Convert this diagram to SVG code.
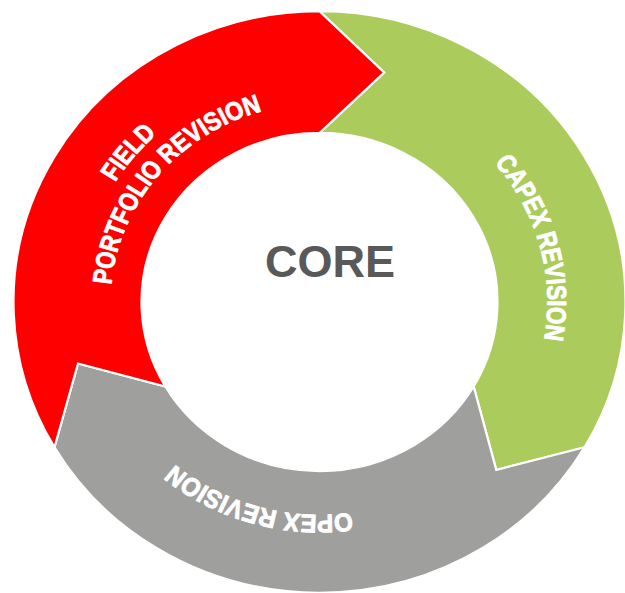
<svg xmlns="http://www.w3.org/2000/svg" xmlns:xlink="http://www.w3.org/1999/xlink" width="625" height="593" viewBox="0 0 625 593">
  <style>
    .seg { stroke: #ffffff; stroke-width: 2.2; stroke-linejoin: miter; }
    .lbl { font-family: "Liberation Sans", Arial, sans-serif; font-weight: bold; font-size: 27px; fill: #ffffff; stroke: #ffffff; stroke-width: 0.9; stroke-linejoin: round; }
    .core { font-family: "Liberation Sans", Arial, sans-serif; font-weight: bold; font-size: 45px; fill: #595959; }
  </style>
  <defs>
    <path id="arcCapex" d="M -19.87,-227.13 A 228 228 0 0 1 96.36,206.64"/>
    <path id="arcOpex" d="M 201.33,98.20 A 224 224 0 0 1 -222.77,-23.41"/>
    <path id="arcField" d="M -182.5,155.9 A 240 240 0 0 1 118.2,-208.9"/>
    <path id="arcPortfolio" d="M -158.92,135.72 A 209 209 0 0 1 102.91,-181.91"/>
  </defs>
  <rect width="625" height="593" fill="#ffffff"/>
  <g transform="translate(319.5,302) scale(1,0.95)">
    <g id="connectors"/>
    <g id="capex">
      <path class="seg" fill="#abcc5c" d="M 0,-306 A 306 306 0 0 1 265,153 L 176.78,176.78 L 154.15,89 A 178 178 0 0 0 0,-178 L 64.70,-241.48 Z"/>
      <text class="lbl" text-anchor="middle"><textPath xlink:href="#arcCapex" href="#arcCapex" startOffset="50%" textLength="199" lengthAdjust="spacingAndGlyphs">CAPEX REVISION</textPath></text>
    </g>
    <g id="opex">
      <path class="seg" fill="#9f9f9e" d="M 265,153 A 306 306 0 0 1 -265,153 L -241.48,64.70 L -154.15,89 A 178 178 0 0 0 154.15,89 L 176.78,176.78 Z"/>
      <text class="lbl" text-anchor="middle"><textPath xlink:href="#arcOpex" href="#arcOpex" startOffset="50%" textLength="190" lengthAdjust="spacingAndGlyphs">OPEX REVISION</textPath></text>
    </g>
    <g id="field">
      <path class="seg" fill="#ff0000" d="M -265,153 A 306 306 0 0 1 0,-306 L 64.70,-241.48 L 0,-178 A 178 178 0 0 0 -154.15,89 L -241.48,64.70 Z"/>
      <text class="lbl" text-anchor="middle"><textPath xlink:href="#arcField" href="#arcField" startOffset="50%" textLength="66" lengthAdjust="spacingAndGlyphs">FIELD</textPath></text>
      <text class="lbl" text-anchor="middle"><textPath xlink:href="#arcPortfolio" href="#arcPortfolio" startOffset="50%" textLength="252" lengthAdjust="spacingAndGlyphs">PORTFOLIO REVISION</textPath></text>
    </g>
  </g>
  <g id="core">
    <text class="core" x="330" y="276.5" text-anchor="middle">CORE</text>
  </g>
</svg>
